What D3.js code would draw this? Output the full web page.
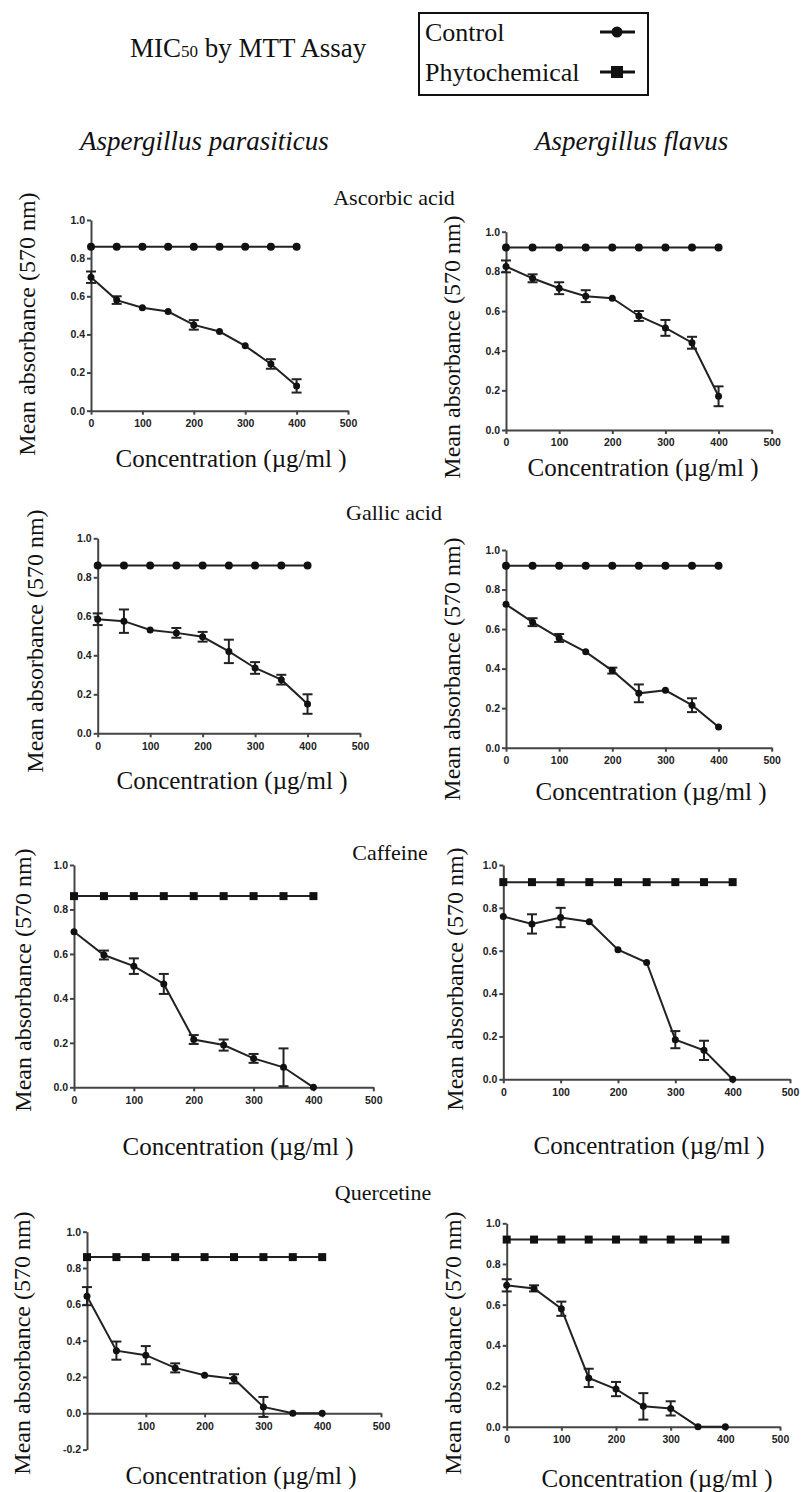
<html>
<head>
<meta charset="utf-8">
<style>
  body { margin: 0; background: #fff; }
  svg text { font-family: "Liberation Serif", "Times New Roman", serif; fill: #111; }
  .axis text { font-family: "Liberation Sans", Arial, sans-serif; font-weight: bold; font-size: 10.5px; fill: #222; }
  .axis path, .axis line { stroke: #444; stroke-width: 2; }
</style>
</head>
<body>
<svg id="chart"></svg>
<script src="https://d3js.org/d3.v7.min.js"></script>
<script>
// concentrations (µg/ml) shared by every panel
var concentrations = [0, 50, 100, 150, 200, 250, 300, 350, 400]
var xTicks = [0, 100, 200, 300, 400, 500]
var yTicks = [0, 0.2, 0.4, 0.6, 0.8, 1.0]
var yTicksNeg = [-0.2, 0, 0.2, 0.4, 0.6, 0.8, 1.0]

var species = ["Aspergillus parasiticus", "Aspergillus flavus"]
var compounds = ["Ascorbic acid", "Gallic acid", "Caffeine", "Quercetine"]
var seriesNames = ["Control", "Phytochemical"]

// flat (untreated) line
var controlParasiticus = [0.86, 0.86, 0.86, 0.86, 0.86, 0.86, 0.86, 0.86, 0.86]
var controlFlavus = [0.92, 0.92, 0.92, 0.92, 0.92, 0.92, 0.92, 0.92, 0.92]

// treated means and error (SD)
var ascorbicParasiticus = [0.70, 0.58, 0.54, 0.52, 0.45, 0.415, 0.34, 0.245, 0.13]
var ascorbicParasiticusErr = [0.03, 0.02, 0, 0, 0.025, 0, 0, 0.025, 0.035]
var ascorbicFlavus = [0.825, 0.765, 0.715, 0.675, 0.665, 0.575, 0.515, 0.44, 0.17]
var ascorbicFlavusErr = [0.03, 0.02, 0.03, 0.03, 0, 0.025, 0.04, 0.03, 0.05]
var gallicParasiticus = [0.585, 0.575, 0.53, 0.515, 0.495, 0.42, 0.335, 0.275, 0.15]
var gallicParasiticusErr = [0.03, 0.06, 0, 0.025, 0.025, 0.06, 0.03, 0.025, 0.05]
var gallicFlavus = [0.725, 0.635, 0.555, 0.485, 0.39, 0.275, 0.29, 0.215, 0.105]
var gallicFlavusErr = [0, 0.02, 0.02, 0, 0.015, 0.045, 0, 0.035, 0]
var caffeineParasiticus = [0.70, 0.595, 0.545, 0.465, 0.215, 0.19, 0.13, 0.09, 0]
var caffeineParasiticusErr = [0, 0.02, 0.035, 0.045, 0.02, 0.025, 0.02, 0.085, 0]
var caffeineFlavus = [0.76, 0.725, 0.755, 0.735, 0.605, 0.545, 0.185, 0.135, 0]
var caffeineFlavusErr = [0, 0.045, 0.045, 0, 0, 0, 0.04, 0.045, 0]
var quercetineParasiticus = [0.645, 0.345, 0.32, 0.25, 0.21, 0.19, 0.035, 0, 0]
var quercetineParasiticusErr = [0.05, 0.05, 0.05, 0.025, 0, 0.025, 0.055, 0, 0]
var quercetineFlavus = [0.695, 0.68, 0.58, 0.24, 0.185, 0.10, 0.09, 0, 0]
var quercetineFlavusErr = [0.03, 0.015, 0.035, 0.045, 0.035, 0.065, 0.035, 0, 0]

// panel placement: x px of 0 and 500, y px of 1.0 and of the lowest tick
var panels = [
  {flat: controlParasiticus, vals: ascorbicParasiticus, err: ascorbicParasiticusErr, x0: 91, x1: 348, yTop: 220, yBot: 410.7, shape: "circle", xt: [231, 458], yt: [27, 324]},
  {flat: controlFlavus, vals: ascorbicFlavus, err: ascorbicFlavusErr, x0: 506, x1: 771.7, yTop: 231.7, yBot: 430, shape: "circle", xt: [643, 467], yt: [452, 347]},
  {flat: controlParasiticus, vals: gallicParasiticus, err: gallicParasiticusErr, x0: 97.7, x1: 360, yTop: 538.3, yBot: 733.3, shape: "circle", xt: [232, 780], yt: [35, 641]},
  {flat: controlFlavus, vals: gallicFlavus, err: gallicFlavusErr, x0: 506, x1: 771.7, yTop: 550, yBot: 747.7, shape: "circle", xt: [651, 791], yt: [452, 669]},
  {flat: controlParasiticus, vals: caffeineParasiticus, err: caffeineParasiticusErr, x0: 74, x1: 373.3, yTop: 865, yBot: 1087.3, shape: "square", xt: [238, 1146], yt: [23, 980]},
  {flat: controlFlavus, vals: caffeineFlavus, err: caffeineFlavusErr, x0: 503.3, x1: 790, yTop: 865, yBot: 1079.3, shape: "square", xt: [649, 1145], yt: [455, 979]},
  {flat: controlParasiticus, vals: quercetineParasiticus, err: quercetineParasiticusErr, x0: 87, x1: 381, yTop: 1231.7, yBot: 1449.6, neg: true, shape: "square", xt: [241, 1475], yt: [22, 1343]},
  {flat: controlFlavus, vals: quercetineFlavus, err: quercetineFlavusErr, x0: 506.7, x1: 780, yTop: 1223.3, yBot: 1426.7, shape: "square", xt: [657, 1478], yt: [453, 1343]}
]
var compoundPos = [[394, 197], [394, 512], [390, 852], [383, 1192]]

var W = 805, H = 1492
var svg = d3.select("#chart").attr("width", W).attr("height", H)

// header
var head = svg.append("text").attr("x", 130).attr("y", 57).attr("font-size", 27)
head.append("tspan").text("MIC")
head.append("tspan").attr("font-size", 17).text("50")
head.append("tspan").text(" by MTT Assay")

// legend
var legend = svg.append("g")
legend.append("rect").attr("x", 419).attr("y", 13).attr("width", 229).attr("height", 82)
      .attr("fill", "none").attr("stroke", "#111").attr("stroke-width", 2)
seriesNames.forEach(function(name, i){
  var cy = 32 + i * 40
  legend.append("text").attr("x", 425).attr("y", cy).attr("dy", "0.35em").attr("font-size", 26).text(name)
  legend.append("line").attr("x1", 600).attr("x2", 635).attr("y1", cy).attr("y2", cy)
        .attr("stroke", "#111").attr("stroke-width", 3)
  if (i == 0) legend.append("circle").attr("cx", 617).attr("cy", cy).attr("r", 5.5).attr("fill", "#111")
  else legend.append("rect").attr("x", 611).attr("y", cy - 6).attr("width", 12).attr("height", 12).attr("fill", "#111")
})

// species column headings
svg.append("text").attr("x", 80).attr("y", 150).attr("font-size", 27).attr("font-style", "italic").text(species[0])
svg.append("text").attr("x", 535).attr("y", 150).attr("font-size", 27).attr("font-style", "italic").text(species[1])

compounds.forEach(function(c, i){
  svg.append("text").attr("x", compoundPos[i][0]).attr("y", compoundPos[i][1]).attr("dy", "0.35em")
     .attr("text-anchor", "middle").attr("font-size", 22).text(c)
})

panels.forEach(function(p){
  var yMin = p.neg ? -0.2 : 0
  var xScale = d3.scaleLinear().domain([0, 500]).range([p.x0, p.x1])
  var yScale = d3.scaleLinear().domain([yMin, 1]).range([p.yBot, p.yTop])
  var g = svg.append("g")

  g.append("g").attr("class", "axis")
   .attr("transform", "translate(" + p.x0 + ",0)")
   .call(d3.axisLeft(yScale).tickValues(p.neg ? yTicksNeg : yTicks)
          .tickFormat(function(d){ return d3.format(".1f")(d).replace("\u2212", "-") })
          .tickSize(4).tickSizeOuter(0).tickPadding(2))

  g.append("g").attr("class", "axis")
   .attr("transform", "translate(0," + yScale(0) + ")")
   .call(d3.axisBottom(xScale).tickValues(p.neg ? xTicks.slice(1) : xTicks)
          .tickSize(4).tickSizeOuter(0).tickPadding(5))

  var line = d3.line()
               .x(function(d, i){ return xScale(concentrations[i]) })
               .y(function(d){ return yScale(d) })

  // flat line
  g.append("path").datum(p.flat).attr("d", line)
   .attr("fill", "none").attr("stroke", "#222").attr("stroke-width", 2)
  if (p.shape == "circle") {
    g.selectAll(".fm").data(p.flat).enter().append("circle")
     .attr("cx", function(d, i){ return xScale(concentrations[i]) })
     .attr("cy", function(d){ return yScale(d) })
     .attr("r", 4).attr("fill", "#111")
  } else {
    g.selectAll(".fm").data(p.flat).enter().append("rect")
     .attr("x", function(d, i){ return xScale(concentrations[i]) - 4 })
     .attr("y", function(d){ return yScale(d) - 4 })
     .attr("width", 8).attr("height", 8).attr("fill", "#111")
  }

  // treated line with error bars
  g.append("path").datum(p.vals).attr("d", line)
   .attr("fill", "none").attr("stroke", "#222").attr("stroke-width", 2)
  p.vals.forEach(function(v, i){
    var e = p.err[i]
    if (e <= 0) return
    var cx = xScale(concentrations[i])
    var hi = yScale(v + e), lo = yScale(Math.max(yMin, v - e))
    g.append("line").attr("x1", cx).attr("x2", cx).attr("y1", hi).attr("y2", lo)
     .attr("stroke", "#222").attr("stroke-width", 2)
    ;[hi, lo].forEach(function(yy){
      g.append("line").attr("x1", cx - 5).attr("x2", cx + 5).attr("y1", yy).attr("y2", yy)
       .attr("stroke", "#222").attr("stroke-width", 2)
    })
  })
  g.selectAll(".pm").data(p.vals).enter().append("circle")
   .attr("cx", function(d, i){ return xScale(concentrations[i]) })
   .attr("cy", function(d){ return yScale(d) })
   .attr("r", 3.5).attr("fill", "#111")

  // axis titles
  g.append("text").attr("x", p.xt[0]).attr("y", p.xt[1]).attr("dy", "0.35em")
   .attr("text-anchor", "middle").attr("font-size", 25).text("Concentration (\u00b5g/ml )")
  g.append("text").attr("transform", "translate(" + p.yt[0] + "," + p.yt[1] + ") rotate(-90)")
   .attr("dy", "0.35em").attr("text-anchor", "middle").attr("font-size", 24)
   .text("Mean absorbance (570 nm)")
})
</script>
</body>
</html>
